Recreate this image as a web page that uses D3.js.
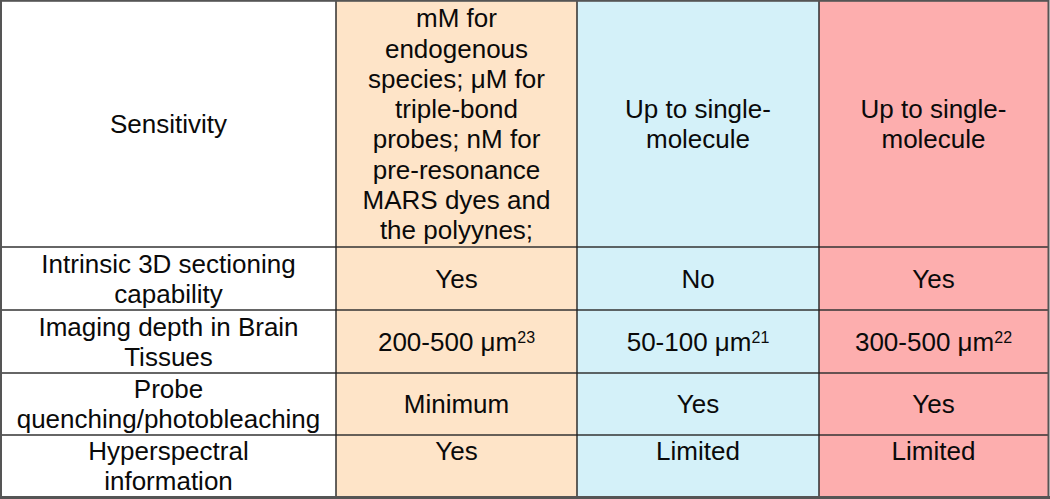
<!DOCTYPE html>
<html>
<head>
<meta charset="utf-8">
<script src="https://cdn.jsdelivr.net/npm/d3@7"></script>
<style>
  html, body { margin: 0; padding: 0; background: #ffffff; }
  svg { display: block; }
</style>
</head>
<body>
<svg id="chart" width="1050" height="499"></svg>
<script>
// ---- Data ----
const rowLabels = [
  ["Sensitivity"],
  ["Intrinsic 3D sectioning", "capability"],
  ["Imaging depth in Brain", "Tissues"],
  ["Probe", "quenching/photobleaching"],
  ["Hyperspectral", "information"]
];
// each cell: array of lines; each line: [text, superscript]
const col1Values = [
  [["mM for"], ["endogenous"], ["species; μM for"], ["triple-bond"], ["probes; nM for"], ["pre-resonance"], ["MARS dyes and"], ["the polyynes;"]],
  [["Yes"]],
  [["200-500 μm", "23"]],
  [["Minimum"]],
  [["Yes"], [""]]
];
const col2Values = [
  [["Up to single-"], ["molecule"]],
  [["No"]],
  [["50-100 μm", "21"]],
  [["Yes"]],
  [["Limited"], [""]]
];
const col3Values = [
  [["Up to single-"], ["molecule"]],
  [["Yes"]],
  [["300-500 μm", "22"]],
  [["Yes"]],
  [["Limited"], [""]]
];
const columnFills = ["#ffffff", "#fee4c8", "#d4f1f9", "#fdaeae"];

// ---- Layout ----
const svg = d3.select("#chart");
const colEdges = [1, 336, 577, 819, 1048];
const rowEdges = [1, 247, 310, 373, 435, 497];
const fontSize = 26, lineH = 30.3, supSize = 16;
const font = "'Liberation Sans', Arial, Helvetica, sans-serif";

const columns = [
  rowLabels.map(r => r.map(t => [t])),
  col1Values, col2Values, col3Values
];

// backgrounds
columns.forEach((col, ci) => {
  svg.append("rect")
    .attr("x", colEdges[ci]).attr("y", rowEdges[0])
    .attr("width", colEdges[ci + 1] - colEdges[ci])
    .attr("height", rowEdges[rowEdges.length - 1] - rowEdges[0])
    .attr("fill", columnFills[ci]);
});

// text
columns.forEach((col, ci) => {
  const cx = (colEdges[ci] + colEdges[ci + 1]) / 2;
  col.forEach((lines, ri) => {
    const cy = (rowEdges[ri] + rowEdges[ri + 1]) / 2;
    const n = lines.length;
    const firstBase = cy - (n - 1) * lineH / 2 + fontSize * 0.358;
    lines.forEach((ln, li) => {
      if (!ln[0]) return;
      const t = svg.append("text")
        .attr("x", cx).attr("y", firstBase + li * lineH)
        .attr("text-anchor", "middle")
        .attr("font-family", font)
        .attr("font-size", fontSize)
        .attr("fill", "#0a0a0a");
      t.append("tspan").text(ln[0]);
      if (ln[1]) {
        t.append("tspan").attr("font-size", supSize).attr("dy", -8).text(ln[1]);
      }
    });
  });
});

// grid lines
const W = colEdges[colEdges.length - 1], H = rowEdges[rowEdges.length - 1];
rowEdges.slice(1, -1).forEach(y => {
  svg.append("line").attr("x1", 0).attr("x2", W + 1).attr("y1", y).attr("y2", y)
    .attr("stroke", "#333").attr("stroke-width", 1.6);
});
colEdges.slice(1, -1).forEach(x => {
  svg.append("line").attr("x1", x).attr("x2", x).attr("y1", 0).attr("y2", H + 1)
    .attr("stroke", "#222").attr("stroke-width", 1.4);
});
// outer border
svg.append("rect").attr("x", 1).attr("y", 0.8).attr("width", W - 0.5).attr("height", H - 0.5)
  .attr("fill", "none").attr("stroke", "#555").attr("stroke-width", 2);
svg.append("line").attr("x1", 0).attr("x2", 1050).attr("y1", 497.5).attr("y2", 497.5)
  .attr("stroke", "#555").attr("stroke-width", 3);
</script>
</body>
</html>
